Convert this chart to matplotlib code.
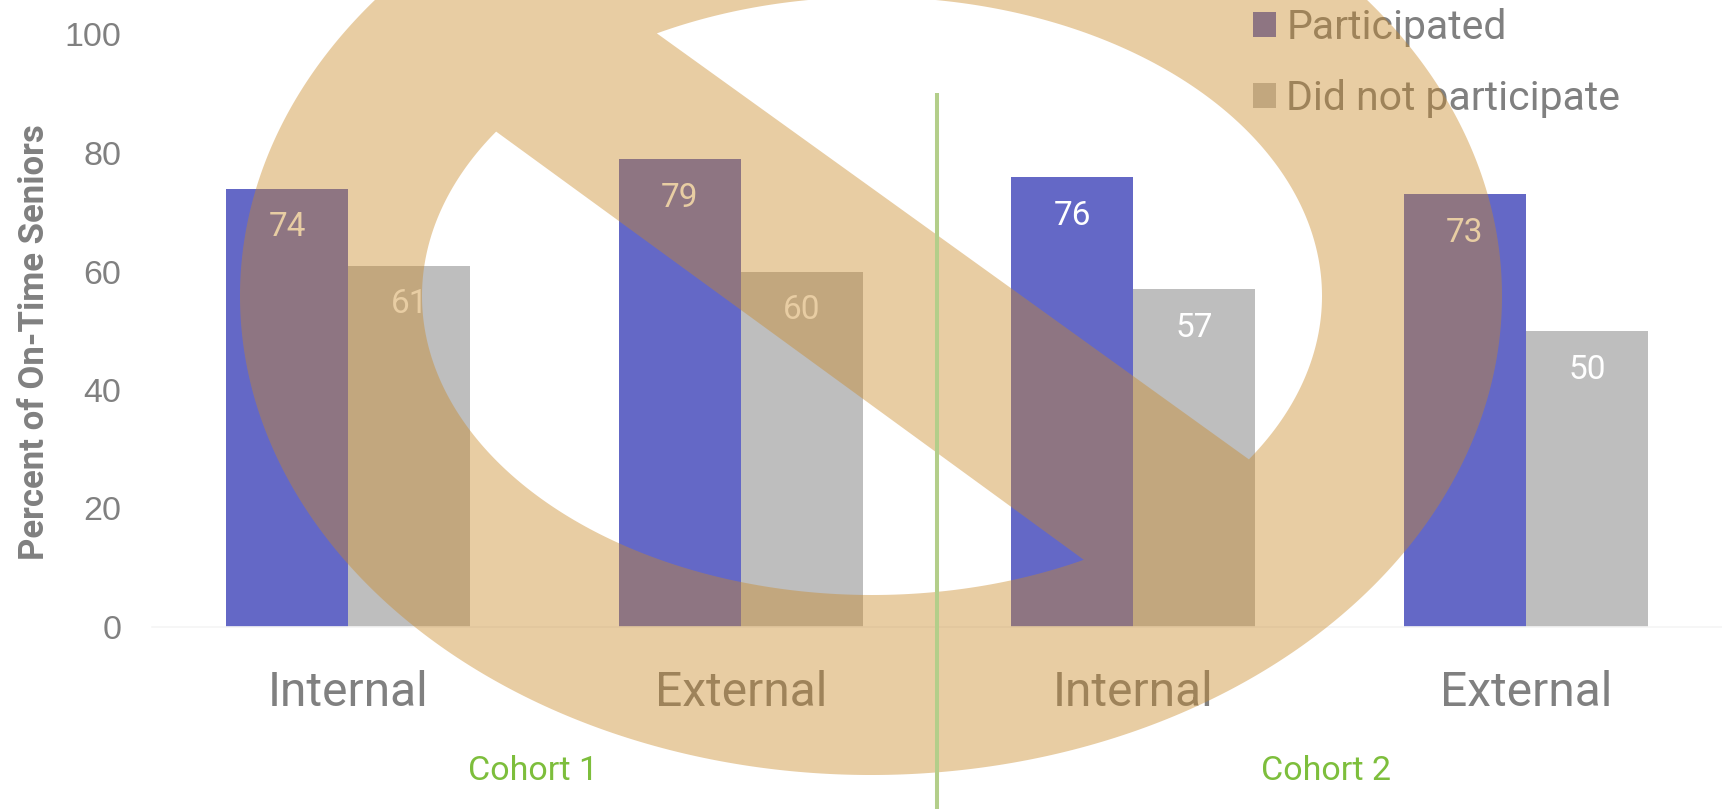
import matplotlib
matplotlib.use('Agg')
import matplotlib.pyplot as plt
from matplotlib.path import Path
from matplotlib.patches import PathPatch
import numpy as np

W, H = 1722, 809

categories = ['Internal', 'External', 'Internal', 'External']
participated = [74, 79, 76, 73]
did_not = [61, 60, 57, 50]
y_ticks = [0, 20, 40, 60, 80, 100]
series_names = ['Participated', 'Did not participate']
cohorts = ['Cohort 1', 'Cohort 2']

BLUE = '#6468C6'
GRAY = '#BEBEBE'
TEXT = '#808080'
GREEN = '#7DBE3C'
DIN = 'Roboto'


def hole(cx, cy, rx, ry, p0, p1, above):
    # part of the inner ellipse on one side of the slash edge p0-p1
    t = np.linspace(0, 2 * np.pi, 1500, endpoint=False)
    x = cx + rx * np.cos(t)
    y = cy + ry * np.sin(t)
    side = (p1[0] - p0[0]) * (y - p0[1]) - (p1[1] - p0[1]) * (x - p0[0])
    keep = side < 0 if above else side > 0
    # start the walk right after the cut, so that the chord closes the shape
    start = np.where(keep & ~np.roll(keep, 1))[0][0]
    keep = np.roll(keep, -start)
    x, y = np.roll(x, -start)[keep], np.roll(y, -start)[keep]
    return np.column_stack([x, y])


def no_sign_path():
    # outer ellipse with the two inner lobes cut out, one path so alpha stays flat
    t = np.linspace(0, 2 * np.pi, 1500)
    outer = np.column_stack([871 + 631 * np.cos(t), 296 + 479 * np.sin(t)])
    top = hole(872, 296, 450, 299, (655, 33), (1249, 461), True)
    low = hole(872, 296, 450, 299, (492, 128), (1085, 560), False)
    verts, codes = [], []
    for poly in (outer, top[::-1], low[::-1]):
        verts.extend(poly.tolist() + [poly[0].tolist()])
        codes.extend([Path.MOVETO] + [Path.LINETO] * (len(poly) - 1) + [Path.CLOSEPOLY])
    return Path(verts, codes)


fig = plt.figure(figsize=(W / 100, H / 100), dpi=100)

# Bars
ax = fig.add_axes([152 / W, 1 - 627 / H, 1570 / W, 592.5 / H])
x = np.arange(len(categories))
bw = 0.311
bars1 = ax.bar(x - bw / 2, participated, bw, color=BLUE, label=series_names[0])
bars2 = ax.bar(x + bw / 2, did_not, bw, color=GRAY, label=series_names[1])
for bars in (bars1, bars2):
    for b in bars:
        ax.annotate(str(int(b.get_height())),
                    (b.get_x() + b.get_width() / 2, b.get_height()),
                    xytext=(0, -28), textcoords='offset points',
                    ha='center', va='center', color='white', fontsize=24, family=DIN)

ax.set_xlim(-0.5, 3.5)
ax.set_ylim(0, 100)
ax.set_xticks(x, categories, fontsize=34.5, family=DIN, color=TEXT)
ax.set_yticks(y_ticks)
ax.set_yticklabels(y_ticks, fontsize=24.5, family='Liberation Sans', color=TEXT)
ax.tick_params(axis='x', length=0, pad=31)
ax.tick_params(axis='y', length=0, pad=22)
for s in ['top', 'right', 'left']:
    ax.spines[s].set_visible(False)
ax.spines['bottom'].set_color('#F5F5F5')
ax.spines['bottom'].set_linewidth(1.2)

fig.text(35 / W, 1 - 342 / H, 'Percent of On-Time Seniors', rotation=90, ha='center', va='center',
         fontsize=25, fontweight='bold', family=DIN, color=TEXT)

leg = ax.legend(loc='upper left', bbox_to_anchor=(1253 / W, 1 - 8 / H), bbox_transform=fig.transFigure,
                frameon=False, labelcolor=TEXT, handlelength=0.56, handleheight=0.56,
                handletextpad=0.25, labelspacing=0.79, borderpad=0, borderaxespad=0,
                prop={'family': DIN, 'size': 29.5})

fig.text(533 / W, 1 - 771 / H, cohorts[0], ha='center', va='center', fontsize=24.5, family=DIN, color=GREEN)
fig.text(1326 / W, 1 - 771 / H, cohorts[1], ha='center', va='center', fontsize=24.5, family=DIN, color=GREEN)

# Overlay in pixels: divider and the watermark above everything
over = fig.add_axes([0, 0, 1, 1], facecolor='none')
over.set_xlim(0, W)
over.set_ylim(H, 0)
over.axis('off')
over.plot([937, 937], [93, H], color='#B3CE8A', lw=2.9, solid_capstyle='butt')
over.add_patch(PathPatch(no_sign_path(), facecolor='#C98927', edgecolor='none', alpha=0.425))

fig.savefig('out.png', dpi=100)
